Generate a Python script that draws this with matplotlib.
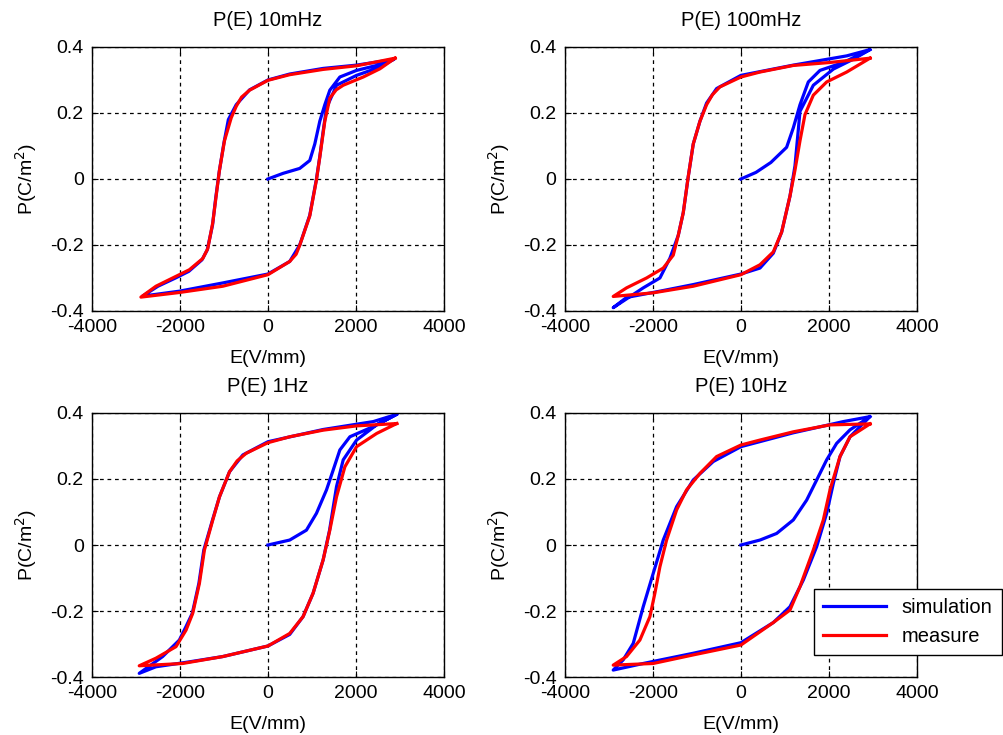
import matplotlib
matplotlib.use("Agg")
import matplotlib.pyplot as plt

plt.rcParams['font.family'] = ['Liberation Sans', 'DejaVu Sans']
plt.rcParams['axes.unicode_minus'] = False

titles = ['P(E) 10mHz', 'P(E) 100mHz', 'P(E) 1Hz', 'P(E) 10Hz']

# 10 mHz
sim_10mHz_E = [0, 342, 722, 950, 1064, 1178, 1292, 1406, 1634, 2014, 2470, 2850,
               2014, 1254, 494, 0, -418, -722, -900, -1000, -1110, -1190, -1260, -1380,
               -1500, -1800, -2100, -2500, -2850,
               -2014, -1026, 0, 494, 722, 950, 1102, 1180, 1260, 1330, 1558, 2014, 2546, 2850]
sim_10mHz_P = [0, 0.017, 0.032, 0.056, 0.106, 0.175, 0.225, 0.269, 0.309, 0.329, 0.344, 0.362,
               0.345, 0.335, 0.318, 0.300, 0.270, 0.225, 0.180, 0.110, 0.020, -0.060, -0.140, -0.215,
               -0.245, -0.280, -0.300, -0.325, -0.355,
               -0.340, -0.315, -0.288, -0.250, -0.200, -0.110, 0.000, 0.070, 0.150, 0.215, 0.284, 0.314, 0.339, 0.362]
meas_10mHz_E = [2888, 2014, 1254, 494, 0, -418, -600, -722, -836, -988, -1102, -1178, -1254, -1368,
                -1482, -1786, -2090, -2546, -2888,
                -2014, -1026, 0, 494, 640, 722, 950, 1102, 1178, 1292, 1406, 1550, 1710, 2166, 2546, 2888]
meas_10mHz_P = [0.366, 0.343, 0.332, 0.316, 0.299, 0.269, 0.248, 0.220, 0.185, 0.116, 0.027, -0.052, -0.132, -0.211,
                -0.241, -0.275, -0.295, -0.325, -0.358,
                -0.344, -0.325, -0.290, -0.250, -0.228, -0.201, -0.112, -0.003, 0.066, 0.175, 0.245, 0.270, 0.284, 0.309, 0.334, 0.366]

# 100 mHz
sim_100mHz_E = [0, 342, 680, 1038, 1190, 1342, 1531, 1796, 2327, 2933,
                2403, 1190, 0, -553, -781, -932, -1084, -1198, -1311, -1425, -1614, -1842, -2221, -2903,
                -2600, -1842, -1084, 0, 432, 735, 925, 1114, 1228, 1342, 1645, 2100, 2555, 2933]
sim_100mHz_P = [0, 0.020, 0.050, 0.096, 0.155, 0.225, 0.294, 0.329, 0.353, 0.392,
                0.373, 0.345, 0.314, 0.274, 0.230, 0.175, 0.106, 0.007, -0.102, -0.171, -0.240, -0.300, -0.330, -0.390,
                -0.359, -0.340, -0.320, -0.288, -0.270, -0.225, -0.161, -0.052, 0.040, 0.205, 0.284, 0.333, 0.363, 0.392]
meas_100mHz_E = [2933, 2024, 1190, 432, 0, -478, -650, -781, -932, -1084, -1198, -1311, -1425, -1539,
                 -1766, -2145, -2600, -2903,
                 -1994, -1084, 0, 432, 735, 925, 1114, 1228, 1342, 1455, 1645, 1948, 2403, 2933]
meas_100mHz_P = [0.366, 0.353, 0.344, 0.324, 0.309, 0.279, 0.255, 0.225, 0.175, 0.106, 0.007, -0.102, -0.171, -0.231,
                 -0.270, -0.300, -0.330, -0.356,
                 -0.345, -0.325, -0.290, -0.260, -0.221, -0.161, -0.052, 0.027, 0.116, 0.195, 0.254, 0.294, 0.324, 0.366]

# 1 Hz
sim_1Hz_E = [0, 494, 874, 1102, 1330, 1482, 1634, 1862, 2394, 2926,
             2394, 1254, 0, -570, -874, -1102, -1260, -1458, -1570, -1720, -1862, -2014, -2394, -2926,
             -2546, -1786, -1026, 0, 494, 798, 1026, 1254, 1400, 1558, 1710, 2014, 2470, 2926]
sim_1Hz_P = [0, 0.015, 0.045, 0.096, 0.167, 0.227, 0.288, 0.328, 0.359, 0.396,
             0.374, 0.350, 0.313, 0.273, 0.222, 0.146, 0.076, -0.015, -0.116, -0.207, -0.247, -0.288, -0.338, -0.389,
             -0.369, -0.354, -0.338, -0.306, -0.271, -0.217, -0.146, -0.045, 0.045, 0.177, 0.258, 0.318, 0.364, 0.396]
meas_1Hz_E = [2926, 2014, 1254, 494, 0, -494, -700, -874, -1102, -1254, -1444, -1558, -1710, -1862,
              -2090, -2546, -2926,
              -1938, -1026, 0, 494, 798, 1026, 1254, 1406, 1558, 1748, 2014, 2470, 2926]
meas_1Hz_P = [0.368, 0.361, 0.348, 0.328, 0.310, 0.278, 0.255, 0.222, 0.146, 0.076, -0.015, -0.116, -0.207, -0.258,
              -0.308, -0.343, -0.366,
              -0.359, -0.338, -0.306, -0.268, -0.217, -0.146, -0.045, 0.045, 0.146, 0.237, 0.298, 0.338, 0.368]

# 10 Hz
sim_10Hz_E = [0, 432, 811, 1190, 1493, 1721, 1948, 2175, 2479, 2933,
              2327, 1190, 0, -629, -1084, -1463, -1766, -1994, -2221, -2448, -2676, -2903,
              -2221, -1084, 0, 735, 1114, 1418, 1721, 1948, 2100, 2251, 2479, 2933]
sim_10Hz_P = [0, 0.015, 0.035, 0.076, 0.136, 0.197, 0.258, 0.308, 0.349, 0.389,
              0.374, 0.340, 0.298, 0.253, 0.197, 0.116, 0.015, -0.086, -0.187, -0.298, -0.348, -0.379,
              -0.359, -0.328, -0.296, -0.235, -0.187, -0.106, -0.005, 0.096, 0.187, 0.268, 0.328, 0.389]
meas_10Hz_E = [2933, 2024, 1190, 432, 0, -553, -932, -1236, -1463, -1690, -1842, -1956, -2069,
               -2297, -2600, -2903,
               -1994, -1084, 0, 735, 1114, 1342, 1645, 1872, 2024, 2251, 2479, 2933]
meas_10Hz_P = [0.367, 0.364, 0.343, 0.318, 0.303, 0.268, 0.217, 0.167, 0.106, 0.015, -0.066, -0.146, -0.217,
               -0.288, -0.338, -0.364,
               -0.359, -0.333, -0.303, -0.235, -0.197, -0.126, -0.015, 0.076, 0.167, 0.268, 0.328, 0.367]

sims = [(sim_10mHz_E, sim_10mHz_P), (sim_100mHz_E, sim_100mHz_P),
        (sim_1Hz_E, sim_1Hz_P), (sim_10Hz_E, sim_10Hz_P)]
meas = [(meas_10mHz_E, meas_10mHz_P), (meas_100mHz_E, meas_100mHz_P),
        (meas_1Hz_E, meas_1Hz_P), (meas_10Hz_E, meas_10Hz_P)]

fig = plt.figure(figsize=(10.04, 7.35), dpi=100)
positions = [[0.0916, 0.5769, 0.3506, 0.3592], [0.5627, 0.5769, 0.3506, 0.3592],
             [0.0916, 0.0789, 0.3506, 0.3592], [0.5627, 0.0789, 0.3506, 0.3592]]

for i in range(4):
    ax = fig.add_axes(positions[i])
    ax.plot(sims[i][0], sims[i][1], color='#0000ff', lw=2.3, label='simulation')
    ax.plot(meas[i][0], meas[i][1], color='#ff0000', lw=2.3, label='measure')
    ax.set_xlim(-4000, 4000)
    ax.set_ylim(-0.4, 0.4)
    ax.set_xticks([-4000, -2000, 0, 2000, 4000])
    ax.set_yticks([-0.4, -0.2, 0, 0.2, 0.4])
    ax.set_yticklabels(['-0.4', '-0.2', '0', '0.2', '0.4'])
    ax.grid(True, color='black', linestyle=(0, (3, 3)), lw=0.9)
    ax.tick_params(direction='in', top=True, right=True, labelsize=14, length=4, pad=6)
    ax.set_title(titles[i], fontsize=14.5, pad=15)
    ax.set_xlabel('E(V/mm)', fontsize=14, labelpad=10)
    ax.set_ylabel('P(C/m$^2$)', fontsize=14, labelpad=8)
    for s in ax.spines.values():
        s.set_linewidth(1.0)
    if i == 3:
        leg = ax.legend(loc='upper left', bbox_to_anchor=(0.811, 0.199),
                        bbox_transform=fig.transFigure, fontsize=14.5,
                        fancybox=False, framealpha=1, edgecolor='black',
                        handlelength=3.1, borderaxespad=0, borderpad=0.45,
                        labelspacing=0.5)
        leg.get_frame().set_linewidth(1.0)

fig.savefig('out.png', dpi=100)
